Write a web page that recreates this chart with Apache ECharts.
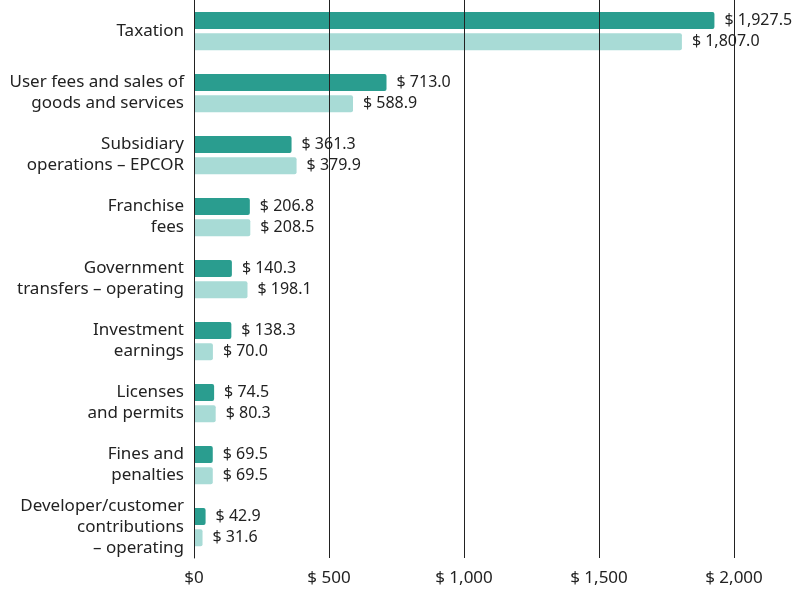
<!DOCTYPE html>
<html><head><meta charset="utf-8">
<script src="https://cdn.jsdelivr.net/npm/echarts@6/dist/echarts.min.js"></script>
<style>html,body{margin:0;padding:0;background:#fff}#c{width:800px;height:590px}</style>
</head><body><div id="c"></div>
<script>
const categories = ["Taxation","User fees and sales of\ngoods and services","Subsidiary\noperations – EPCOR","Franchise\nfees","Government\ntransfers – operating","Investment\nearnings","Licenses\nand permits","Fines and\npenalties","Developer/customer\ncontributions\n– operating"];
const seriesA = [1927.5,713.0,361.3,206.8,140.3,138.3,74.5,69.5,42.9];
const seriesB = [1807.0,588.9,379.9,208.5,198.1,70.0,80.3,69.5,31.6];
const tickValues = [0,500,1000,1500,2000];
const FONT = "Noto Sans";
const fmt = v => "$ " + v.toLocaleString("en-US",{minimumFractionDigits:1,maximumFractionDigits:1});
const chart = echarts.init(document.getElementById('c'));
chart.setOption({
  animation:false,
  grid:{left:194,right:66,top:0,bottom:32,containLabel:false},
  xAxis:{type:'value',min:0,max:2000,interval:500,z:5,
    axisLine:{show:false},axisTick:{show:false},
    splitLine:{show:true,lineStyle:{color:'#222',width:1}},
    axisLabel:{fontFamily:FONT,fontSize:17,color:'#222',margin:12,
      formatter:v=>tickValues.includes(v)?("$"+(v===0?"0":" "+v.toLocaleString("en-US"))):""}},
  yAxis:{type:'category',inverse:true,data:categories,z:5,
    axisLine:{show:true,lineStyle:{color:'#222',width:1}},axisTick:{show:false},
    axisLabel:{fontFamily:FONT,fontSize:17,color:'#222',margin:10,align:'right',lineHeight:21}},
  series:[
    {type:'bar',data:seriesA,barWidth:17,barGap:'25%',z:2,
     itemStyle:{color:'#2a9d8f',borderRadius:[0,2,2,0]},
     label:{show:true,position:'right',distance:10,fontFamily:FONT,fontSize:16,color:'#222',formatter:p=>fmt(p.value)}},
    {type:'bar',data:seriesB,barWidth:17,z:2,
     itemStyle:{color:'#a8dbd6',borderRadius:[0,2,2,0]},
     label:{show:true,position:'right',distance:10,fontFamily:FONT,fontSize:16,color:'#222',formatter:p=>fmt(p.value)}}
  ]
});
</script></body></html>
